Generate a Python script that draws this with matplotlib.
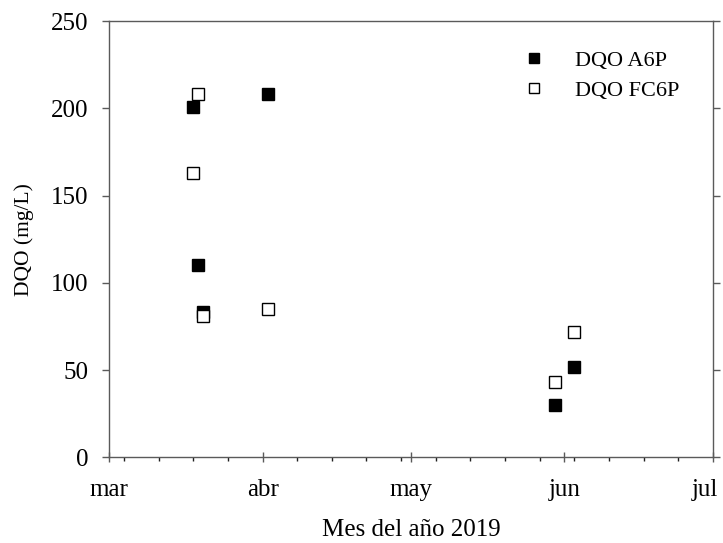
import datetime as dt
import matplotlib
matplotlib.use("Agg")
import matplotlib.pyplot as plt
import matplotlib.dates as mdates

# DQO A6P (filled squares)
fechas_a6p = [dt.date(2019, 3, 18), dt.date(2019, 3, 19), dt.date(2019, 3, 20),
              dt.date(2019, 4, 2), dt.date(2019, 5, 30), dt.date(2019, 6, 3)]
dqo_a6p = [201, 110, 83, 208, 30, 52]

# DQO FC6P (open squares)
fechas_fc6p = [dt.date(2019, 3, 19), dt.date(2019, 3, 18), dt.date(2019, 3, 20),
               dt.date(2019, 4, 2), dt.date(2019, 5, 30), dt.date(2019, 6, 3)]
dqo_fc6p = [208, 163, 81, 85, 43, 72]

meses = {3: "mar", 4: "abr", 5: "may", 6: "jun", 7: "jul"}
fin = dt.date(2019, 7, 1)

plt.rcParams['font.family'] = ['Liberation Serif', 'DejaVu Serif']
plt.rcParams['font.size'] = 18

fig = plt.figure(figsize=(7.23, 5.43), dpi=100)
ax = fig.add_axes([0.151, 0.158, 0.835, 0.803])

ax.plot(fechas_a6p, dqo_a6p, linestyle='none', marker='s', markersize=8.5,
        markerfacecolor='black', markeredgecolor='black', label='DQO A6P')
ax.plot(fechas_fc6p, dqo_fc6p, linestyle='none', marker='s', markersize=8.5,
        markerfacecolor='white', markeredgecolor='black', markeredgewidth=1.0,
        label='DQO FC6P')

ax.set_xlim(dt.date(2019, 3, 1), fin)
ax.set_ylim(0, 250)
ax.set_yticks([0, 50, 100, 150, 200, 250])

# last month label ("jul") is drawn separately, nudged left so it stays on the canvas
def fmt_mes(v, p):
    d = mdates.num2date(v)
    if d.month == fin.month:
        return ""
    return meses.get(d.month, "")

ax.xaxis.set_major_locator(mdates.MonthLocator())
ax.xaxis.set_major_formatter(plt.FuncFormatter(fmt_mes))
ax.xaxis.set_minor_locator(mdates.WeekdayLocator(byweekday=mdates.MO))

ax.annotate(meses[fin.month], xy=(fin, 0), xycoords=('data', 'axes fraction'),
            xytext=(-6, -15.5), textcoords='offset points', ha='center', va='top',
            fontsize=18, annotation_clip=False)

for s in ax.spines.values():
    s.set_color('#5a5a5a')
    s.set_linewidth(1.0)

ax.tick_params(axis='x', which='major', direction='inout', length=7, width=1.0,
               color='#5a5a5a', pad=12, top=False)
ax.tick_params(axis='x', which='minor', direction='out', length=3, width=1.0,
               color='#202020', top=False)
ax.tick_params(axis='y', which='major', direction='out', length=5, width=1.0,
               color='#5a5a5a', right=True, pad=10)

ax.set_xlabel('Mes del año 2019', labelpad=13)
ax.set_ylabel('DQO (mg/L)', labelpad=12, fontsize=15.5)

leg = ax.legend(loc='upper right', bbox_to_anchor=(0.96, 0.954), borderaxespad=0,
                frameon=False, fontsize=16, handletextpad=1.35, labelspacing=0.43,
                markerscale=0.85, handlelength=1.0)

fig.savefig('out.png', dpi=100)
